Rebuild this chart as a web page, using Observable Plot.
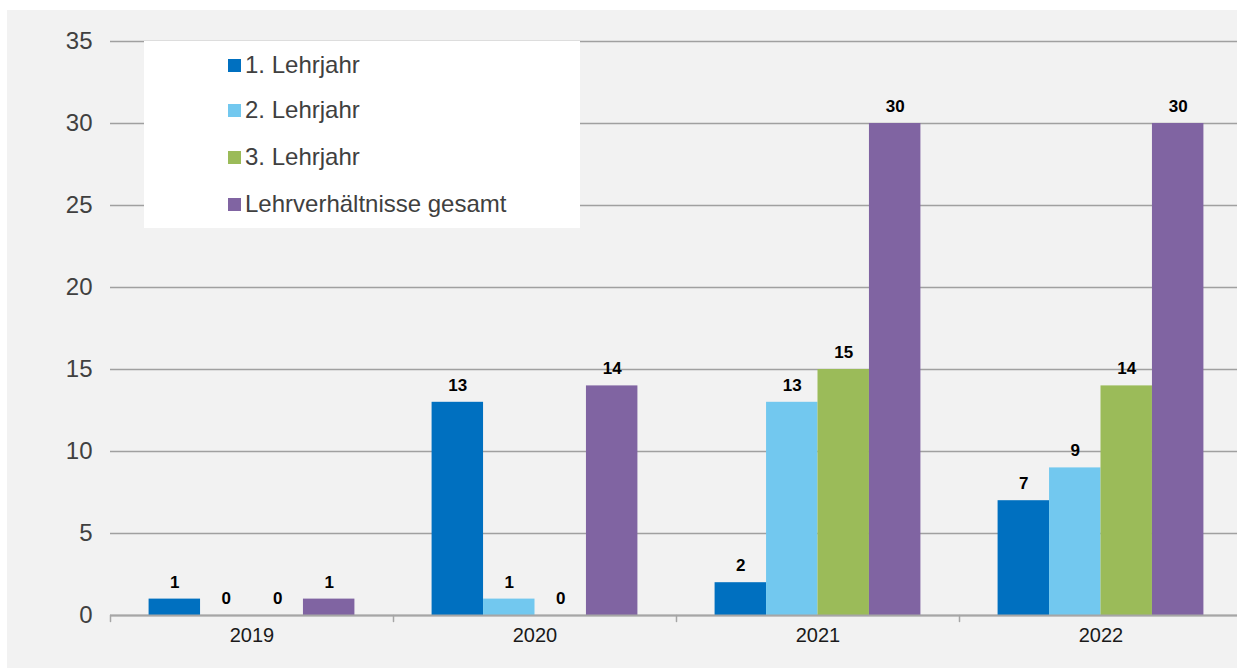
<!DOCTYPE html>
<html>
<head>
<meta charset="utf-8">
<script src="https://cdn.jsdelivr.net/npm/d3@7"></script>
<script src="https://cdn.jsdelivr.net/npm/@observablehq/plot@0.6"></script>
<style>
  html, body { margin: 0; padding: 0; background: #ffffff; overflow: hidden; width: 1237px; height: 668px; }
  #wrap { position: absolute; left: 7px; top: 10px; width: 1230px; height: 658px; background: #f2f2f2; overflow: hidden; font-family: "Liberation Sans", Arial, sans-serif; }
  #legend { position: absolute; left: 137px; top: 31px; width: 436px; height: 187px; background: #ffffff; z-index: 2; }
  .item { position: absolute; left: 84px; height: 28px; display: flex; align-items: center; font-size: 24px; color: #404040; white-space: nowrap; }
  .sw { width: 13px; height: 13px; margin-right: 4px; }
  #wrap > svg { position: absolute; left: 0; top: 0; max-width: none !important; width: 1235px !important; height: 658px !important; }
</style>
</head>
<body>
<div id="wrap"><div id="legend"></div></div>
<script>
const years = ["2019", "2020", "2021", "2022"];
const series = ["1. Lehrjahr", "2. Lehrjahr", "3. Lehrjahr", "Lehrverhältnisse gesamt"];
const lehrjahr1 = [1, 13, 2, 7];
const lehrjahr2 = [0, 1, 13, 9];
const lehrjahr3 = [0, 0, 15, 14];
const gesamt = [1, 14, 30, 30];
const colors = ["#0070c0", "#72c8ef", "#9bbb59", "#8064a2"];
const yTicks = [0, 5, 10, 15, 20, 25, 30, 35];

const seriesValues = [lehrjahr1, lehrjahr2, lehrjahr3, gesamt];
const data = [];
years.forEach((yr, i) => {
  series.forEach((s, j) => data.push({year: yr, series: s, value: seriesValues[j][i]}));
});

const tickShape = {draw(context, l) { context.moveTo(0, 0); context.lineTo(0, -l); }};

const chart = Plot.plot({
  width: 1235,
  height: 658,
  marginLeft: 103,
  marginRight: 0,
  marginTop: 31,
  marginBottom: 53,
  style: {fontFamily: "Liberation Sans, Arial, sans-serif", background: "transparent", overflow: "visible", maxWidth: "none"},
  fx: {domain: years, padding: 0, round: false, label: null},
  x: {domain: series, paddingInner: 0, paddingOuter: 0.75, round: false, axis: null},
  y: {domain: [0, 35], ticks: yTicks, label: null},
  color: {domain: series, range: colors},
  marks: [
    Plot.gridY(yTicks, {stroke: "#a0a0a0", strokeOpacity: 1, strokeWidth: 1.3}),
    Plot.axisY(yTicks, {tickSize: 0, tickPadding: 18, fontSize: 24, fill: "#404040", label: null}),
    Plot.axisFx({anchor: "bottom", tickSize: 0, tickPadding: 12, fontSize: 20, fill: "#1a1a1a", label: null}),
    Plot.barY(data, {fx: "year", x: "series", y: "value", fill: "series"}),
    Plot.ruleY([0], {stroke: "#a6a6a6", strokeWidth: 2}),
    Plot.vector([0], {frameAnchor: "bottom-left", length: 6, rotate: 180, anchor: "start", shape: tickShape, stroke: "#a6a6a6", strokeWidth: 1.5}),
    Plot.text(data, {fx: "year", x: "series", y: "value", text: d => String(d.value), dy: -17, fontSize: 17, fontWeight: "bold", fill: "#000000"})
  ]
});
document.getElementById("wrap").appendChild(chart);

const legend = document.getElementById("legend");
const rowTops = [10, 55, 102, 149];
series.forEach((s, i) => {
  const it = document.createElement("div");
  it.className = "item";
  it.style.top = rowTops[i] + "px";
  const sw = document.createElement("span");
  sw.className = "sw";
  sw.style.background = colors[i];
  const tx = document.createElement("span");
  tx.textContent = s;
  it.appendChild(sw);
  it.appendChild(tx);
  legend.appendChild(it);
});
</script>
</body>
</html>
